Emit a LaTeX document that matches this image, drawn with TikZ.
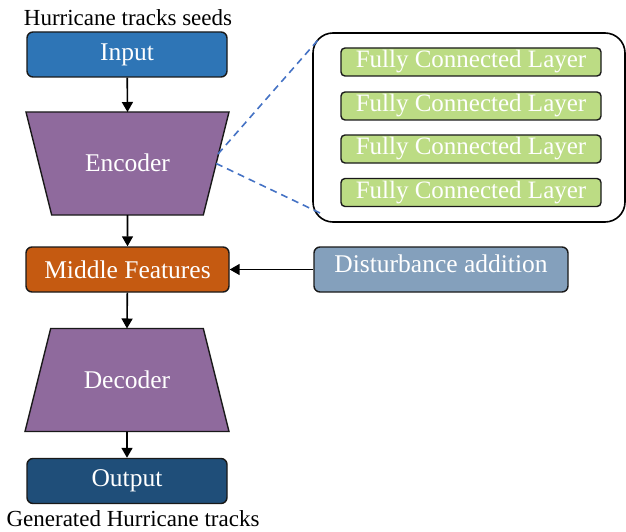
\documentclass[tikz,border=0pt]{standalone}
\usepackage{fontspec}
\setmainfont{Liberation Serif}
\usetikzlibrary{shapes.geometric,arrows.meta}
\definecolor{inblue}{HTML}{2E75B6}
\definecolor{codepurple}{HTML}{8F6A9D}
\definecolor{midorange}{HTML}{C55A11}
\definecolor{distblue}{HTML}{84A0BC}
\definecolor{outblue}{HTML}{1F4E79}
\definecolor{fcgreen}{HTML}{BCDC84}
\definecolor{dashblue}{HTML}{4472C4}
\tikzset{
  box/.style={draw=black!90, line width=1.4pt, rounded corners=6pt, text=white,
    minimum height=45pt, inner sep=0pt, font=\fontsize{25.5}{28}\selectfont},
  coder/.style={trapezium, trapezium stretches body, trapezium angle=76,
    draw=black!90, line width=1.4pt, fill=codepurple, text=white,
    text height=16pt, text depth=0pt, inner ysep=43.5pt, outer sep=0pt,
    font=\fontsize{25.5}{28}\selectfont},
  fclayer/.style={draw=black!90, line width=1.4pt, rounded corners=4pt, fill=fcgreen,
    text=white, minimum width=260pt, minimum height=28pt, inner sep=0pt,
    font=\fontsize{25}{28}\selectfont},
  caption/.style={font=\fontsize{23}{26}\selectfont},
  arr/.style={-{Triangle[length=10pt,width=11pt]}, line width=1.6pt},
  link/.style={dash pattern=on 7pt off 5pt, draw=dashblue, line width=1.6pt}
}

\begin{document}
\begin{tikzpicture}[x=1pt,y=-1pt]
    \useasboundingbox (0,0) rectangle (626,532);
    % left column
    \node[caption] (seeds) at (128,18) {Hurricane tracks seeds};
    \node[box, fill=inblue, minimum width=200pt] (input) at (127,54.5) {Input};
    \node[coder, shape border rotate=180, minimum width=203pt] (enc) at (127.5,163.5) {Encoder};
    \node[box, fill=midorange, minimum width=203pt] (mid) at (127.5,269.5) {Middle Features};
    \node[coder, minimum width=204pt] (dec) at (127,380) {Decoder};
    \node[box, fill=outblue, minimum width=200pt] (out) at (127,481) {Output};
    \node[caption] (gen) at (133,519) {Generated Hurricane tracks};
    % right side
    \node[box, fill=distblue, minimum width=254pt, text depth=11pt] (dist) at (441,269.5) {Disturbance addition};
    \node[draw=black, line width=1.6pt, rounded corners=20pt, minimum width=312pt,
      minimum height=189pt] (fc) at (469,127.5) {};
    \node[fclayer] (fc1) at (471,62) {Fully Connected Layer};
    \node[fclayer] (fc2) at (471,106) {Fully Connected Layer};
    \node[fclayer] (fc3) at (471,149) {Fully Connected Layer};
    \node[fclayer] (fc4) at (471,192.5) {Fully Connected Layer};
    % connectors
    \draw[arr] (input) -- (enc.north);
    \draw[arr] (enc.south) -- (mid);
    \draw[arr] (mid) -- (dec.north);
    \draw[arr] (dec.south) -- (out);
    \draw[arr] (dist) -- (mid);
    \coordinate (encA) at (218,154);
    \coordinate (fcA) at (318,40);
    \coordinate (fcB) at (320,213);
    \draw[link] (encA) -- (fcA);
    \draw[link] (enc.east) -- (fcB);
\end{tikzpicture}
\end{document}
